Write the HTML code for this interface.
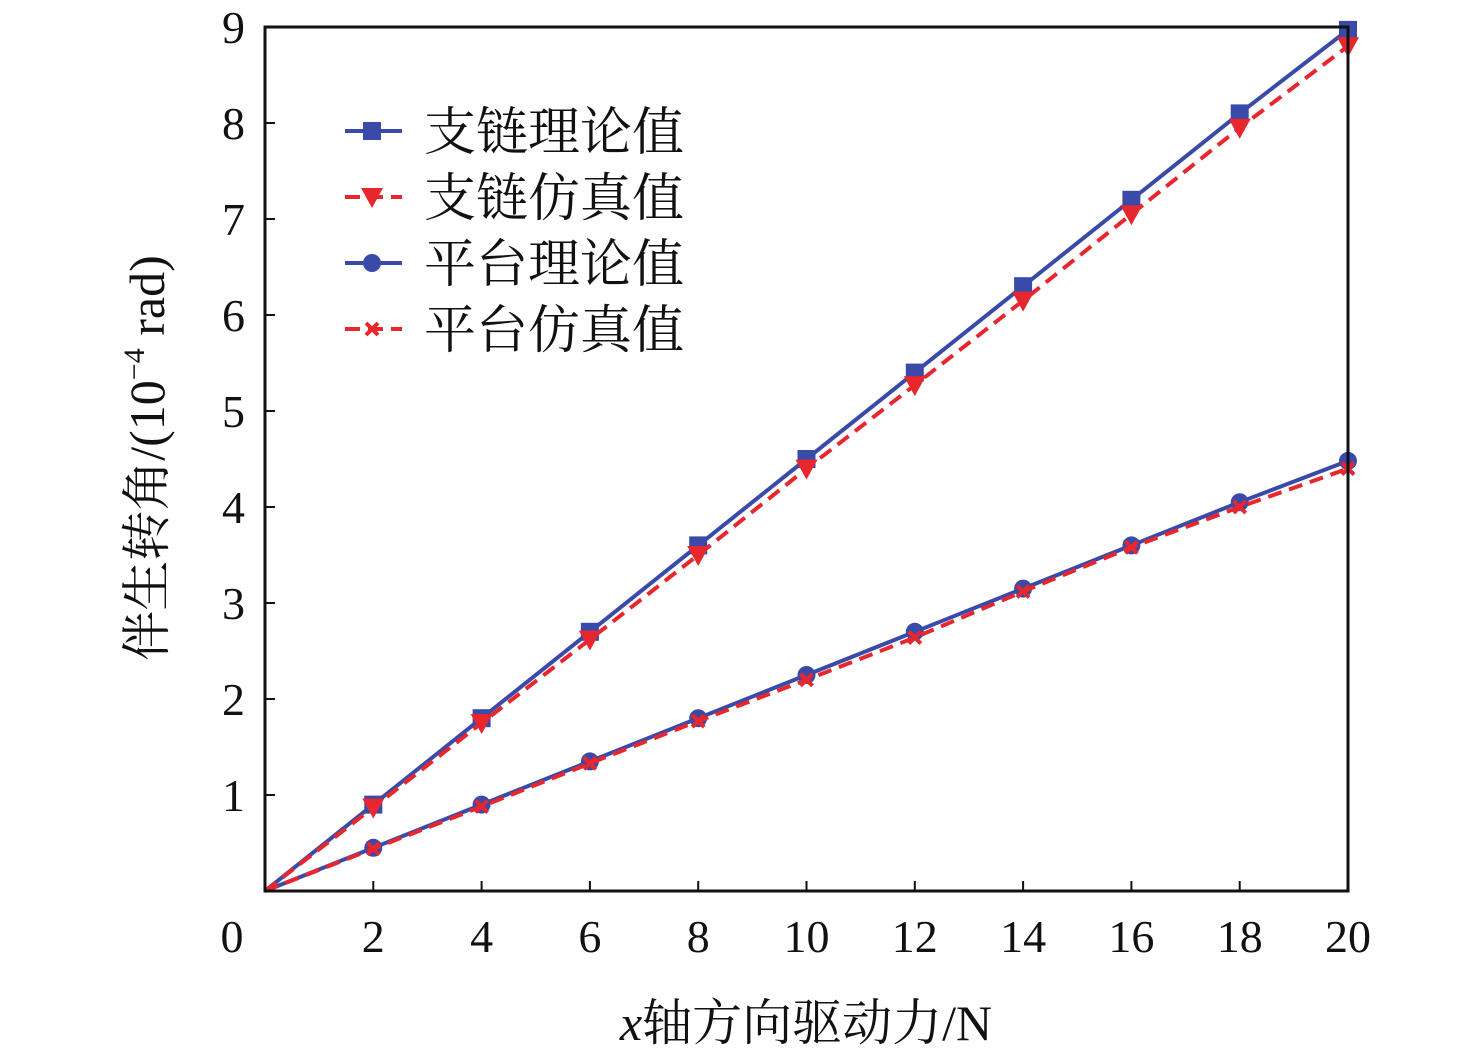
<!DOCTYPE html>
<html><head><meta charset="utf-8"><style>
html,body{margin:0;padding:0;background:#fff;}
svg{display:block;}
text{font-family:"Liberation Serif","Noto Serif CJK SC",serif;fill:#111;}
</style></head><body>
<svg id="chart" width="1476" height="1056" viewBox="0 0 1476 1056" xmlns="http://www.w3.org/2000/svg">
<g id="grid"></g>
<g id="series"></g>
<rect x="265" y="27" width="1083" height="864" fill="none" stroke="#111" stroke-width="3"/>
<text x="806" y="1040" font-size="50" text-anchor="middle"><tspan font-style="italic">x</tspan>轴方向驱动力/N</text>
<text transform="translate(164,458) rotate(-90)" font-size="50" text-anchor="middle">伴生转角/(10<tspan font-size="30" dy="-20">−4</tspan><tspan dy="20"> rad)</tspan></text>
<g id="legend"></g>
</svg>
<script>
const xs = [0,2,4,6,8,10,12,14,16,18,20];
const chainTheory = [0,0.9,1.8,2.7,3.6,4.5,5.4,6.3,7.2,8.1,8.97];
const chainSim = [0,0.87,1.75,2.62,3.5,4.4,5.27,6.15,7.05,7.95,8.8];
const platTheory = [0,0.45,0.9,1.35,1.8,2.25,2.7,3.15,3.6,4.05,4.48];
const platSim = [0,0.44,0.88,1.33,1.77,2.2,2.64,3.12,3.58,4.0,4.4];
const xTicks = [2,4,6,8,10,12,14,16,18,20];
const yTicks = [1,2,3,4,5,6,7,8,9];
const legendLabels = ["支链理论值","支链仿真值","平台理论值","平台仿真值"];

const X0=265,X1=1348,Y0=891,Y1=27;
const sx=v=>X0+(v-0)/(20-0)*(X1-X0);
const sy=v=>Y0-(v-0)/(9-0)*(Y0-Y1);
const NS="http://www.w3.org/2000/svg";
function mk(tag,attrs,parent){const e=document.createElementNS(NS,tag);for(const k in attrs)e.setAttribute(k,attrs[k]);parent.appendChild(e);return e;}
const grid=document.getElementById('grid'),ser=document.getElementById('series'),leg=document.getElementById('legend');

const zero=mk('text',{x:232,y:952,'font-size':46,'text-anchor':'middle'},grid);
zero.textContent='0';


xTicks.forEach(t=>{
  const l=mk('line',{x1:sx(t),x2:sx(t),y1:Y0,y2:Y0-10,stroke:'#111','stroke-width':2},grid);
  
  
  const tx=mk('text',{x:sx(t),y:952,'font-size':46,'text-anchor':'middle'},grid);
  tx.textContent=t;
  
  
});
yTicks.forEach(t=>{
  const l=mk('line',{x1:X0,x2:X0+10,y1:sy(t),y2:sy(t),stroke:'#111','stroke-width':2},grid);
  
  
  const tx=mk('text',{x:245,y:sy(t)+16,'font-size':46,'text-anchor':'end'},grid);
  tx.textContent=t;
  
  
});

const BLUE='#3a4aa8',RED='#e8262d';
function marker(type,x,y,color,g){
  let m;
  if(type==='square') m=mk('rect',{x:x-9,y:y-9,width:18,height:18,fill:color},g);
  else if(type==='tri') m=mk('polygon',{points:`${x-11},${y-9} ${x+11},${y-9} ${x},${y+11}`,fill:color},g);
  else if(type==='circle') m=mk('circle',{cx:x,cy:y,r:9,fill:color},g);
  else {m=mk('path',{d:`M${x-6},${y-6}L${x+6},${y+6}M${x+6},${y-6}L${x-6},${y+6}`,stroke:color,'stroke-width':4},g);}
  return m;
}
const series=[
 {name:'chain-theory',vals:chainTheory,color:BLUE,dash:'',m:'square'},
 {name:'chain-sim',vals:chainSim,color:RED,dash:'14 8',m:'tri'},
 {name:'platform-theory',vals:platTheory,color:BLUE,dash:'',m:'circle'},
 {name:'platform-sim',vals:platSim,color:RED,dash:'14 8',m:'x'}
];
series.forEach(s=>{
  const g=mk('g',{},ser);
  
  
  const p=mk('polyline',{points:xs.map((x,i)=>sx(x)+','+sy(s.vals[i])).join(' '),fill:'none',stroke:s.color,'stroke-width':4,'stroke-dasharray':s.dash},g);
  
  
  xs.forEach((x,i)=>{
    if(i===0) return;
    const m=marker(s.m,sx(x),sy(s.vals[i]),s.color,g);
    
    
  });
});
series.forEach((s,i)=>{
  const y=131+i*66;
  const g=mk('g',{},leg);
  
  
  mk('line',{x1:345,x2:402,y1:y,y2:y,stroke:s.color,'stroke-width':4,'stroke-dasharray':s.dash?'15 8':''},g);
  marker(s.m,372,y,s.color,g);
  const t=mk('text',{x:424,y:y+19,'font-size':52},g);
  t.textContent=legendLabels[i];
});
</script>
</body></html>
